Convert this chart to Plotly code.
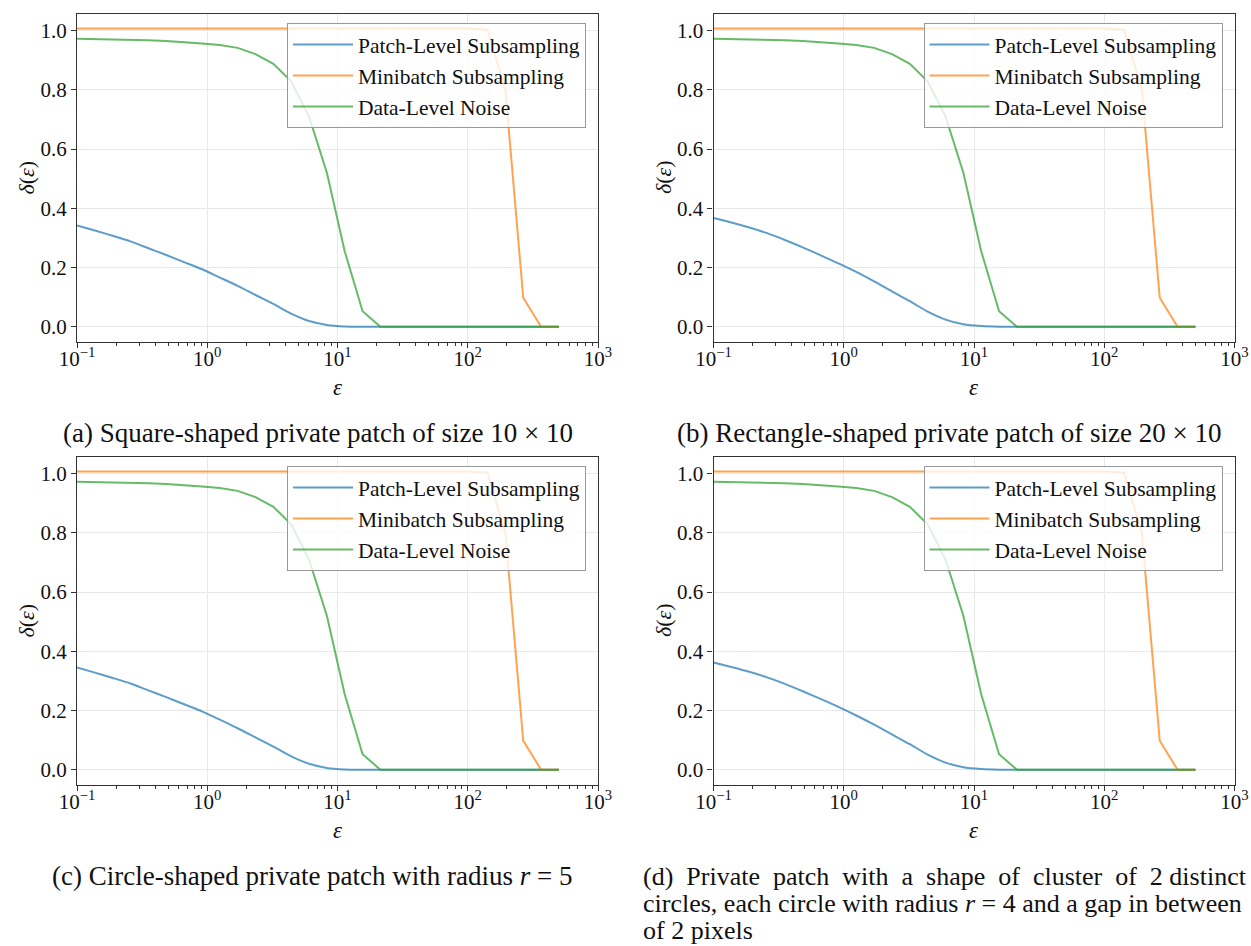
import plotly.graph_objects as go

# ---------------- data ----------------
eps = [0.1, 0.1371, 0.1880, 0.2577, 0.3533, 0.4844, 0.6641, 0.9105, 1.248, 1.711,
       2.346, 3.217, 4.410, 6.046, 8.289, 11.36, 15.58, 21.36, 29.29, 40.15,
       55.05, 75.47, 103.5, 141.9, 194.5, 266.7, 365.6, 501.2]

patch_a = [0.342, 0.325, 0.307, 0.288, 0.265, 0.242, 0.218, 0.194, 0.166, 0.138,
           0.107, 0.077, 0.044, 0.019, 0.006, 0.001, 0.0, 0.0, 0.0, 0.0,
           0.0, 0.0, 0.0, 0.0, 0.0, 0.0, 0.0, 0.0]
patch_b = [0.367, 0.352, 0.335, 0.316, 0.293, 0.268, 0.241, 0.214, 0.185, 0.153,
           0.119, 0.086, 0.051, 0.024, 0.008, 0.002, 0.0, 0.0, 0.0, 0.0,
           0.0, 0.0, 0.0, 0.0, 0.0, 0.0, 0.0, 0.0]
patch_c = [0.345, 0.328, 0.310, 0.291, 0.268, 0.245, 0.221, 0.197, 0.169, 0.140,
           0.109, 0.078, 0.045, 0.020, 0.006, 0.001, 0.0, 0.0, 0.0, 0.0,
           0.0, 0.0, 0.0, 0.0, 0.0, 0.0, 0.0, 0.0]
patch_d = [0.362, 0.347, 0.331, 0.312, 0.290, 0.265, 0.239, 0.212, 0.183, 0.152,
           0.119, 0.086, 0.051, 0.024, 0.008, 0.002, 0.0, 0.0, 0.0, 0.0,
           0.0, 0.0, 0.0, 0.0, 0.0, 0.0, 0.0, 0.0]

minibatch = [1.007, 1.007, 1.007, 1.007, 1.007, 1.007, 1.007, 1.007, 1.007, 1.007,
             1.007, 1.007, 1.007, 1.007, 1.007, 1.007, 1.007, 1.007, 1.007, 1.007,
             1.007, 1.007, 1.007, 1.003, 0.800, 0.098, 0.0, 0.0]

data_noise = [0.973, 0.972, 0.971, 0.970, 0.968, 0.965, 0.962, 0.957, 0.952, 0.942,
              0.921, 0.888, 0.829, 0.710, 0.520, 0.255, 0.052, 0.0, 0.0, 0.0,
              0.0, 0.0, 0.0, 0.0, 0.0, 0.0, 0.0, 0.0]

series_names = ["Patch-Level Subsampling", "Minibatch Subsampling", "Data-Level Noise"]
patch_series = [patch_a, patch_b, patch_c, patch_d]

captions = [
    "(a) Square-shaped private patch of size 10 × 10",
    "(b) Rectangle-shaped private patch of size 20 × 10",
    "(c) Circle-shaped private patch with radius <i>r</i> = 5",
]
NB = "\u00a0"
caption_d_lines = [
    "(d) Private patch with a shape of cluster of 2 distinct".replace(" ", " " + NB, 9),
    "circles, each circle with radius <i>r</i> = 4 and a gap in between",
    "of 2 pixels",
]

x_tickvals = [0.1, 1, 10, 100, 1000]
x_ticktext = ["10<sup>−1</sup>", "10<sup>0</sup>", "10<sup>1</sup>", "10<sup>2</sup>", "10<sup>3</sup>"]
y_tickvals = [0.0, 0.2, 0.4, 0.6, 0.8, 1.0]

# ---------------- style ----------------
W, H = 1251, 946
FONT = "Liberation Serif"
colors = ["rgba(31,119,180,0.72)", "rgba(255,127,14,0.72)", "rgba(44,160,44,0.72)"]

# panel pixel boxes: left, right, top, bottom
boxes = [
    (77.0, 598.0, 13.6, 341.6),
    (713.5, 1234.5, 13.6, 341.6),
    (77.0, 598.0, 456.6, 784.6),
    (713.5, 1234.5, 456.6, 784.6),
]

minor_vals = [m * 10 ** k for k in range(-1, 3) for m in range(2, 10)]

fig = go.Figure()
layout = dict(
    width=W, height=H, margin=dict(l=0, r=0, t=0, b=0, autoexpand=False),
    paper_bgcolor="white", plot_bgcolor="white",
    font=dict(family=FONT, size=20, color="#111"),
    showlegend=True,
)
annotations = []

for p, (L, R, T, B) in enumerate(boxes):
    idx = "" if p == 0 else str(p + 1)
    xa, ya = "x" + idx, "y" + idx
    leg = "legend" + idx
    for s, (name, ys) in enumerate(zip(series_names, [patch_series[p], minibatch, data_noise])):
        line = dict(color=colors[s], width=2)
        if s == 0:
            line.update(shape="spline", smoothing=0.7)
        fig.add_trace(go.Scatter(
            x=eps, y=ys, mode="lines", name=name, line=line,
            xaxis=xa, yaxis=ya, legend=leg, showlegend=True,
        ))
    layout["xaxis" + idx] = dict(
        type="log", range=[-1, 3], domain=[L / W, R / W], anchor=ya, automargin=False,
        tickvals=x_tickvals, ticktext=x_ticktext, ticklabelstandoff=-7,
        ticks="outside", ticklen=5, tickwidth=1, tickcolor="#333",
        showline=True, linecolor="#333", linewidth=1.2, mirror=True,
        showgrid=True, gridcolor="#e8e8e8", gridwidth=1, zeroline=False,
        minor=dict(tickvals=minor_vals, ticks="outside", ticklen=3, tickcolor="#333",
                   showgrid=False),
        tickfont=dict(family=FONT, size=21, color="#111"),
    )
    layout["yaxis" + idx] = dict(
        range=[-0.0504, 1.0577], domain=[1 - B / H, 1 - T / H], anchor=xa, automargin=False,
        tickvals=y_tickvals, tickformat=".1f",
        ticks="outside", ticklen=5, tickwidth=1, tickcolor="#333",
        showline=True, linecolor="#333", linewidth=1.2, mirror=True,
        showgrid=True, gridcolor="#e8e8e8", gridwidth=1, zeroline=False,
        tickfont=dict(family=FONT, size=21, color="#111"),
    )
    layout[leg] = dict(
        x=(R - 12) / W, y=1 - (T + 9.4) / H, xanchor="right", yanchor="top",
        bgcolor="rgba(255,255,255,0.8)", bordercolor="#999", borderwidth=1,
        font=dict(family=FONT, size=21.5, color="#111"), itemwidth=60,
    )
    # axis titles
    annotations.append(dict(
        text="<i>ε</i>", x=(L + R) / 2 / W, y=1 - (B + 46) / H, xref="paper", yref="paper",
        xanchor="center", yanchor="middle", showarrow=False,
        font=dict(family=FONT, size=23, color="#111"),
    ))
    annotations.append(dict(
        text="<i>δ</i>(<i>ε</i>)", x=(L - 50) / W, y=1 - (T + B) / 2 / H, xref="paper", yref="paper",
        xanchor="center", yanchor="middle", showarrow=False, textangle=-90,
        font=dict(family=FONT, size=22, color="#111"),
    ))

# captions
cap_pos = [(318, 433), (949, 433), (312, 876)]
for txt, (cx, cy) in zip(captions, cap_pos):
    annotations.append(dict(
        text=txt, x=cx / W, y=1 - cy / H, xref="paper", yref="paper",
        xanchor="center", yanchor="middle", showarrow=False,
        font=dict(family=FONT, size=27, color="#111"),
    ))
for i, line in enumerate(caption_d_lines):
    annotations.append(dict(
        text=line, x=641 / W, y=1 - (876 + 27 * i) / H, xref="paper", yref="paper",
        xanchor="left", yanchor="middle", showarrow=False,
        font=dict(family=FONT, size=26, color="#111"),
    ))

layout["annotations"] = annotations
fig.update_layout(**layout)
fig.write_html("out.html")
